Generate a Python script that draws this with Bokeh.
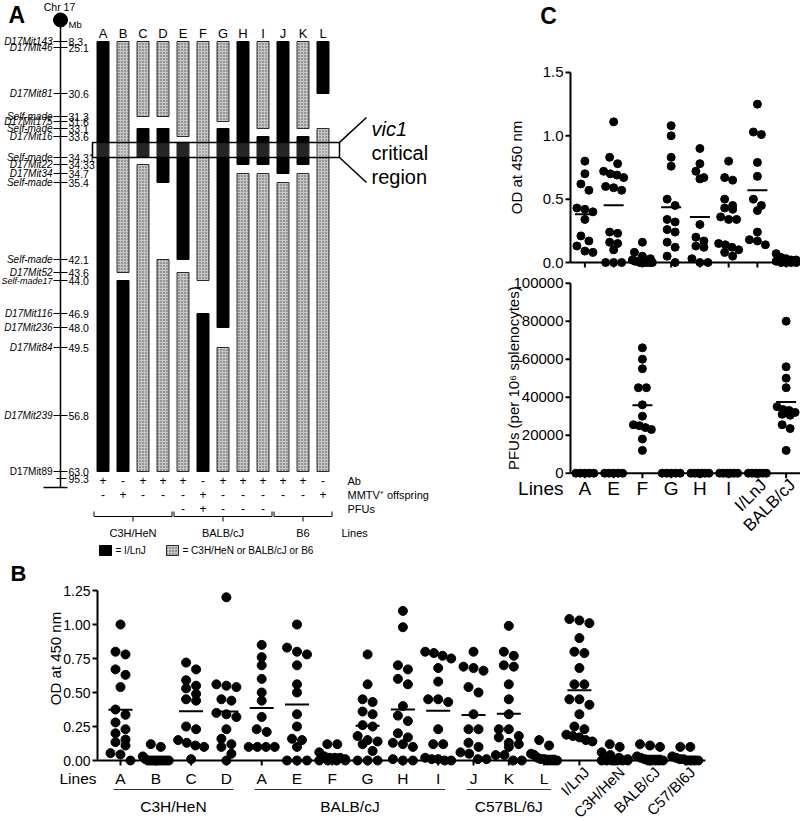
import numpy as np
from bokeh.plotting import figure
from bokeh.models import Range1d
from bokeh.layouts import row, column
from bokeh.embed import file_html
from bokeh.resources import INLINE
from bokeh.core.properties import value

FONTNAME = "Liberation Sans"
FONT = value(FONTNAME)

# ---------------- Panel A data ----------------
lines = ["A", "B", "C", "D", "E", "F", "G", "H", "I", "J", "K", "L"]
marker_names = ["D17Mit143", "D17Mit46", "D17Mit81", "Self-made", "D17Mit175", "Self-made",
                "D17Mit16", "Self-made", "D17Mit22", "D17Mit34", "Self-made", "Self-made",
                "D17Mit52", "Self-made17", "D17Mit116", "D17Mit236", "D17Mit84", "D17Mit239",
                "D17Mit89"]
marker_mb = [8.3, 25.1, 30.6, 31.3, 31.6, 33.1, 33.6, 34.31, 34.33, 34.7, 35.4, 42.1,
             43.6, 44.0, 46.9, 48.0, 49.5, 56.8, 63.0]
marker_text = ["8.3", "25.1", "30.6", "31.3", "31.6", "33.1", "33.6", "34.31", "34.33", "34.7",
               "35.4", "42.1", "43.6", "44.0", "46.9", "48.0", "49.5", "56.8", "63.0"]
chr_end_text = "95.3"
ab = ["+", "-", "+", "+", "+", "-", "+", "+", "+", "+", "+", "-"]
mmtv = ["-", "+", "-", "-", "-", "+", "-", "-", "-", "-", "-", "+"]
pfus = ["", "", "", "", "-", "+", "-", "-", "-", "", "", ""]
strain_names = ["C3H/HeN", "BALB/cJ", "B6"]
strain_first = [0, 4, 9]
strain_last = [3, 8, 11]

# genotype segments: I = I/LnJ, C = C3H/HeN or BALB/cJ or B6
seg_line = ["A", "B", "B", "C", "C", "C", "D", "D", "D", "E", "E", "E", "F", "F",
            "G", "G", "G", "H", "H", "I", "I", "I", "J", "J", "K", "K", "K", "L", "L"]
seg_geno = ["I", "C", "I", "C", "I", "C", "C", "I", "C", "C", "I", "C", "C", "I",
            "C", "I", "C", "I", "C", "C", "I", "C", "I", "C", "C", "I", "C", "I", "C"]
seg_start = [8.3, 8.3, 44.0, 8.3, 33.1, 34.33, 8.3, 33.1, 42.1, 8.3, 33.8, 43.6, 8.3, 46.9,
             8.3, 33.1, 49.5, 8.3, 34.7, 8.3, 33.6, 34.7, 8.3, 35.4, 8.3, 33.6, 34.7, 8.3, 33.1]
seg_end = [63.0, 43.6, 63.0, 31.3, 34.31, 63.0, 31.3, 35.4, 63.0, 33.6, 42.1, 63.0, 44.0, 63.0,
           31.6, 48.0, 63.0, 34.33, 63.0, 33.1, 34.33, 63.0, 34.7, 63.0, 33.1, 34.33, 63.0, 30.6, 63.0]
vic1_start, vic1_end = 33.8, 34.31

# ---------------- Panel C data ----------------
c_groups = ["A", "E", "F", "G", "H", "I", "I/LnJ", "BALB/cJ"]
c_rotated = [False, False, False, False, False, False, True, True]
c_od = [
    [0.80, 0.70, 0.62, 0.57, 0.43, 0.42, 0.40, 0.34, 0.21, 0.17, 0.13, 0.09, 0.08],
    [1.11, 0.83, 0.78, 0.72, 0.70, 0.69, 0.67, 0.60, 0.59, 0.57, 0.24, 0.23, 0.16, 0.15, 0.10, 0.0, 0.0, 0.0],
    [0.16, 0.08, 0.05, 0.03, 0.02, 0.01, 0.01, 0.0, 0.0, 0.0, 0.0, 0.0, 0.0],
    [1.08, 1.00, 0.83, 0.76, 0.50, 0.45, 0.34, 0.32, 0.26, 0.24, 0.16, 0.12, 0.05, 0.0],
    [0.90, 0.78, 0.72, 0.67, 0.66, 0.30, 0.20, 0.17, 0.13, 0.12, 0.03, 0.0, 0.0],
    [0.80, 0.67, 0.65, 0.50, 0.45, 0.43, 0.42, 0.36, 0.34, 0.34, 0.15, 0.14, 0.12, 0.10, 0.08, 0.05],
    [1.25, 1.03, 1.01, 0.79, 0.68, 0.50, 0.45, 0.41, 0.24, 0.18, 0.17, 0.14],
    [0.07, 0.04, 0.03, 0.02, 0.02, 0.01, 0.0, 0.0, 0.0, 0.0],
]
c_od_ticks = [0.0, 0.5, 1.0, 1.5]
c_pfu = [
    [0, 0, 0, 0, 0],
    [0, 0, 0, 0, 0],
    [66000, 60000, 55000, 45000, 45000, 36000, 30000, 25500, 25000, 24000, 23000, 18000, 12000],
    [0, 0, 0, 0, 0],
    [0, 0, 0, 0, 0, 0],
    [0, 0, 0, 0, 0, 0],
    [0, 0, 0, 0, 0, 0],
    [80000, 56000, 50000, 45000, 35000, 33500, 33000, 32000, 31000, 30500, 25500, 23500, 12000],
]
c_pfu_ticks = [0, 20000, 40000, 60000, 80000, 100000]

# ---------------- Panel B data ----------------
b_groups = ["A", "B", "C", "D", "A", "E", "F", "G", "H", "I", "J", "K", "L",
            "I/LnJ", "C3H/HeN", "BALB/cJ", "C57/Bl6J"]
b_rotated = [False] * 13 + [True] * 4
b_values = [
    [1.00, 0.80, 0.78, 0.67, 0.63, 0.54, 0.375, 0.336, 0.28, 0.23, 0.20, 0.154, 0.135, 0.11, 0.054, 0.044, 0.0],
    [0.12, 0.10, 0.03, 0.01, 0, 0, 0, 0, 0, 0, 0, 0, 0],
    [0.72, 0.67, 0.59, 0.55, 0.53, 0.49, 0.45, 0.44, 0.25, 0.23, 0.15, 0.13, 0.11, 0.10, 0.01],
    [1.20, 0.56, 0.55, 0.54, 0.45, 0.44, 0.35, 0.34, 0.32, 0.23, 0.16, 0.12, 0.10, 0.05, 0.0],
    [0.85, 0.76, 0.70, 0.60, 0.50, 0.44, 0.32, 0.23, 0.21, 0.10, 0.10, 0.10, 0.10],
    [1.00, 0.83, 0.80, 0.78, 0.70, 0.56, 0.50, 0.34, 0.25, 0.16, 0.15, 0.10, 0.0, 0.0, 0.0],
    [0.12, 0.12, 0.06, 0.03, 0.02, 0.02, 0.02, 0.01, 0, 0, 0, 0],
    [0.78, 0.56, 0.45, 0.43, 0.36, 0.34, 0.26, 0.25, 0.18, 0.15, 0.14, 0.12, 0.07, 0.0, 0.0, 0.0],
    [1.10, 0.98, 0.70, 0.67, 0.60, 0.56, 0.40, 0.33, 0.29, 0.20, 0.17, 0.13, 0.12, 0.10, 0.01, 0.0, 0.0],
    [0.80, 0.79, 0.77, 0.75, 0.68, 0.58, 0.45, 0.45, 0.43, 0.23, 0.12, 0.12, 0.02, 0.01, 0.01, 0.0, 0.0],
    [0.80, 0.69, 0.68, 0.66, 0.54, 0.50, 0.34, 0.23, 0.23, 0.13, 0.10, 0.06, 0.05, 0.01, 0.01],
    [0.99, 0.80, 0.77, 0.70, 0.69, 0.56, 0.45, 0.34, 0.23, 0.23, 0.18, 0.17, 0.13, 0.12, 0.10, 0.04, 0.04, 0.0, 0.0],
    [0.15, 0.11, 0.05, 0.04, 0.02, 0.01, 0.01, 0, 0, 0, 0],
    [1.04, 1.03, 1.01, 0.90, 0.80, 0.79, 0.68, 0.56, 0.56, 0.45, 0.45, 0.41, 0.34, 0.25, 0.23, 0.19, 0.18, 0.17, 0.15, 0.14],
    [0.12, 0.10, 0.06, 0.04, 0.02, 0.01, 0, 0, 0, 0, 0, 0],
    [0.12, 0.11, 0.10, 0.03, 0.02, 0.01, 0, 0, 0, 0, 0],
    [0.10, 0.10, 0.03, 0.02, 0.01, 0.01, 0, 0, 0, 0],
]
b_ticks = [0.0, 0.25, 0.5, 0.75, 1.0, 1.25]
b_strain_names = ["C3H/HeN", "BALB/cJ", "C57BL/6J"]
b_strain_first = [0, 4, 10]
b_strain_last = [3, 9, 12]


# ---------------- helpers ----------------
def txt(p, x, y, t, size, align="left", baseline="middle", style="normal", angle=0.0, color="black"):
    p.text(x=list(x), y=list(y), text=list(t), text_font=FONT, text_font_size=f"{size}px",
           text_align=align, text_baseline=baseline, text_font_style=style, angle=angle,
           text_color=color)


def swarm(vals, ppu_y, ppu_x, spacing, maxw, tol):
    vals = np.asarray(vals, float)
    order = np.argsort(-vals, kind="stable")
    offs = np.zeros(len(vals))
    i = 0
    while i < len(order):
        top = vals[order[i]] * ppu_y
        j = i
        while j + 1 < len(order) and top - vals[order[j + 1]] * ppu_y < tol:
            j += 1
        n = j - i + 1
        sp = spacing if n == 1 else min(spacing, maxw / (n - 1))
        for k in range(n):
            offs[order[i + k]] = (k - (n - 1) / 2) * sp / ppu_x
        i = j + 1
    return offs


def dotplot(p, groups_vals, ppu_x, ppu_y, size, spacing, maxw, tol, mean_px):
    xs, ys = [], []
    for i, vals in enumerate(groups_vals):
        off = swarm(vals, ppu_y, ppu_x, spacing, maxw, tol)
        xs += list(i + off)
        ys += list(vals)
    p.scatter(xs, ys, size=size, color="black")
    means = [float(np.mean(v)) for v in groups_vals]
    h = mean_px / 2 / ppu_x
    idx = np.arange(len(groups_vals))
    p.segment(x0=idx - h, y0=means, x1=idx + h, y1=means, line_width=2, color="black")


def yaxis(p, x, ticks, labels, ppu_x, size):
    n = len(ticks)
    p.segment(x0=[x], y0=[ticks[0]], x1=[x], y1=[ticks[-1]], line_width=2, color="black")
    p.segment(x0=[x] * n, y0=ticks, x1=[x - 5 / ppu_x] * n, y1=ticks, line_width=2, color="black")
    txt(p, [x - 7 / ppu_x] * n, ticks, labels, size, align="right")


def xaxis(p, x0, x1, n, ppu_y):
    p.segment(x0=[x0], y0=[0], x1=[x1], y1=[0], line_width=2, color="black")
    p.segment(x0=np.arange(n), y0=[0] * n, x1=np.arange(n), y1=[-5 / ppu_y] * n,
              line_width=2, color="black")


def make_fig(w, h, xr, yr):
    p = figure(width=w, height=h, x_range=Range1d(*xr), y_range=Range1d(*yr),
               x_axis_type=None, y_axis_type=None, toolbar_location=None,
               output_backend="svg", min_border=0)
    p.outline_line_color = None
    p.background_fill_color = "white"
    p.border_fill_color = "white"
    return p


# ================= Panel A =================
WA, HA = 500, 558
COL = 20.0
X0 = -5.125
def ux(px):
    return px / COL + X0

marker_row = [41, 47, 93, 116, 121, 128, 136, 157, 164, 173, 182, 259, 272, 280, 313, 327, 347, 415, 471]
def yrow(mb):
    return np.interp(mb, marker_mb, marker_row)

pA = make_fig(WA, HA, (X0, X0 + WA / COL), (HA, 0))

GREY = dict(fill_color="#c6c6c6", hatch_pattern="dot", hatch_color="#4a4a4a", hatch_scale=3,
            hatch_weight=1, line_color="black", line_width=0.8)
sx = np.array([lines.index(l) for l in seg_line], float)
stop = yrow(seg_start)
sbot = yrow(seg_end)
isI = np.array([g == "I" for g in seg_geno])
BW = 0.3
pA.quad(left=sx[~isI] - BW, right=sx[~isI] + BW, top=stop[~isI], bottom=sbot[~isI], **GREY)
pA.quad(left=sx[isI] - BW, right=sx[isI] + BW, top=stop[isI], bottom=sbot[isI],
        fill_color="black", line_color="black")

# critical region box
pA.quad(left=[ux(92)], right=[ux(339)], top=[yrow(vic1_start)], bottom=[yrow(vic1_end)],
        fill_color="white", fill_alpha=0.15, line_color="black", line_width=1.5)
pA.segment(x0=[ux(339), ux(339)], y0=[yrow(vic1_start), yrow(vic1_end)],
           x1=[ux(366), ux(366)], y1=[117, 182], line_color="black", line_width=1.5)
txt(pA, [ux(371)], [128], ["vic1"], 20, style="italic")
txt(pA, [ux(371)], [152], ["critical"], 20)
txt(pA, [ux(371)], [176], ["region"], 20)

# chromosome
cx = ux(60)
pA.segment(x0=[cx], y0=[19], x1=[cx], y1=[487], line_color="black", line_width=1.5)
pA.scatter([cx], [19.5], size=14, color="black")
pA.segment(x0=[ux(43)], y0=[487], x1=[ux(67)], y1=[487], line_color="black", line_width=1.5)
mrow = np.array(marker_row, float)
pA.segment(x0=[ux(53)] * len(mrow), y0=mrow, x1=[ux(67)] * len(mrow), y1=mrow,
           line_color="black", line_width=1)
pA.segment(x0=[ux(56)], y0=[478], x1=[ux(66)], y1=[478], line_color="black", line_width=1)
name_size = [9 if len(n) > 10 else 10 for n in marker_names]
for k in range(len(marker_names)):
    txt(pA, [ux(52)], [mrow[k]], [marker_names[k]], name_size[k], align="right",
        style="normal" if k == len(marker_names) - 1 else "italic")
txt(pA, [ux(68)] * len(mrow), mrow, marker_text, 10.5)
txt(pA, [ux(68)], [478], [chr_end_text], 10.5)
txt(pA, [ux(59)], [6], ["Chr 17"], 10.5, align="center")
txt(pA, [ux(68)], [24], ["Mb"], 9.5)
txt(pA, [ux(8)], [14], ["A"], 23, style="bold")

# column letters
xi = np.arange(len(lines), dtype=float)
txt(pA, xi, [33] * len(lines), lines, 13, align="center")

# phenotype rows
txt(pA, xi, [480] * 12, ab, 12, align="center")
txt(pA, xi, [494] * 12, mmtv, 12, align="center")
pf_x = [i for i, s in enumerate(pfus) if s]
txt(pA, pf_x, [508] * len(pf_x), [pfus[i] for i in pf_x], 12, align="center")
txt(pA, [ux(347)] * 3, [480, 494, 508], ["Ab", "MMTV\u207a offspring", "PFUs"], 11)

# brackets
bl = np.array(strain_first, float) - 0.45
br = np.array(strain_last, float) + 0.45
bc = (bl + br) / 2
pA.segment(x0=bl, y0=[516] * 3, x1=br, y1=[516] * 3, line_color="black", line_width=1)
pA.segment(x0=bl, y0=[516] * 3, x1=bl, y1=[511] * 3, line_color="black", line_width=1)
pA.segment(x0=br, y0=[516] * 3, x1=br, y1=[511] * 3, line_color="black", line_width=1)
pA.segment(x0=bc, y0=[516] * 3, x1=bc, y1=[521] * 3, line_color="black", line_width=1)
txt(pA, bc, [532] * 3, strain_names, 11, align="center")
txt(pA, [ux(341)], [532], ["Lines"], 11)

# legend
pA.quad(left=[ux(99)], right=[ux(111)], top=[545], bottom=[555], fill_color="black", line_color="black")
txt(pA, [ux(115)], [550], ["= I/LnJ"], 10)
pA.quad(left=[ux(166)], right=[ux(178)], top=[545], bottom=[555], **GREY)
txt(pA, [ux(182)], [550], ["= C3H/HeN or BALB/cJ or B6"], 10)

# ================= Panel C =================
WC = 300
nC = len(c_groups)
ppx_c = 28.75
c0 = 584.4  # screen x of first group
def cx_(px):
    return (px - c0) / ppx_c
xr_c = (cx_(500), cx_(800))
ax_c = cx_(570)

# OD subplot
HC1 = 272
ppy_c1 = 126.7
pC1 = make_fig(WC, HC1, xr_c, (-10 / ppy_c1, 262 / ppy_c1))
yaxis(pC1, ax_c, c_od_ticks, [f"{t:.1f}" for t in c_od_ticks], ppx_c, 15)
xaxis(pC1, ax_c, nC - 0.5, nC, ppy_c1)
dotplot(pC1, c_od, ppx_c, ppy_c1, 8, 8, 20, 7, 20)
txt(pC1, [cx_(516)], [0.75], ["OD at 450 nm"], 15, align="center", angle=np.pi / 2)
txt(pC1, [cx_(548)], [(262 - 15) / ppy_c1], ["C"], 23, align="center", style="bold")

# PFU subplot
HC2 = 286
ppy_c2 = 0.0019
zero_img = 472.7 - 272
pC2 = make_fig(WC, HC2, xr_c, ((zero_img - HC2) / ppy_c2, zero_img / ppy_c2))
yaxis(pC2, ax_c, c_pfu_ticks, [f"{t:d}" for t in c_pfu_ticks], ppx_c, 15)
xaxis(pC2, ax_c, nC - 0.5, nC, ppy_c2)
dotplot(pC2, c_pfu, ppx_c, ppy_c2, 8, 8, 18, 7, 20)
txt(pC2, [cx_(513)], [50000], ["PFUs (per 10\u2076 splenocytes)"], 15, align="center", angle=np.pi / 2)
y_lab_c = -15 / ppy_c2
txt(pC2, [cx_(563)], [y_lab_c], ["Lines"], 19, align="right")
flat = [i for i in range(nC) if not c_rotated[i]]
txt(pC2, flat, [y_lab_c] * len(flat), [c_groups[i] for i in flat], 19, align="center")
rot = [i for i in range(nC) if c_rotated[i]]
txt(pC2, [i + 0.22 for i in rot], [-9 / ppy_c2] * len(rot),
    [c_groups[i] for i in rot], 17, align="right", angle=np.pi / 4)

# ================= Panel B =================
WB, HB = 800, 263
nB = len(b_groups)
ppx_b = 35.3
ppy_b = 136.0
b0 = 120.0
def bx_(px):
    return (px - b0) / ppx_b
ax_b = bx_(97)
pB = make_fig(WB, HB, (bx_(0), bx_(800)), ((760 - 821) / ppy_b, (760 - 558) / ppy_b))
yaxis(pB, ax_b, b_ticks, [f"{t:.2f}" for t in b_ticks], ppx_b, 14)
xaxis(pB, ax_b, nB - 1 + 0.57, nB, ppy_b)
dotplot(pB, b_values, ppx_b, ppy_b, 9, 10, 26, 8, 24)
txt(pB, [bx_(55)], [0.75], ["OD at 450 nm"], 15, align="center", angle=np.pi / 2)
txt(pB, [bx_(18)], [(760 - 560) / ppy_b], ["B"], 22, align="center", baseline="top", style="bold")
y_let = -18 / ppy_b
txt(pB, [bx_(96)], [y_let], ["Lines"], 15.5, align="right")
flatb = [i for i in range(nB) if not b_rotated[i]]
txt(pB, flatb, [y_let] * len(flatb), [b_groups[i] for i in flatb], 15.5, align="center")
rotb = [i for i in range(nB) if b_rotated[i]]
txt(pB, [i + 0.2 for i in rotb], [-9 / ppy_b] * len(rotb),
    [b_groups[i] for i in rotb], 15, align="right", angle=np.pi / 4)
gl = np.array(b_strain_first, float) - 0.2
gr = np.array(b_strain_last, float) + 0.2
y_gl = -29 / ppy_b
pB.segment(x0=gl, y0=[y_gl] * 3, x1=gr, y1=[y_gl] * 3, line_width=1, color="#333333")
txt(pB, (gl + gr) / 2, [-46 / ppy_b] * 3, b_strain_names, 15.5, align="center")

layout = column(row(pA, column(pC1, pC2)), pB)
open("out.html", "w").write(file_html(layout, INLINE))
